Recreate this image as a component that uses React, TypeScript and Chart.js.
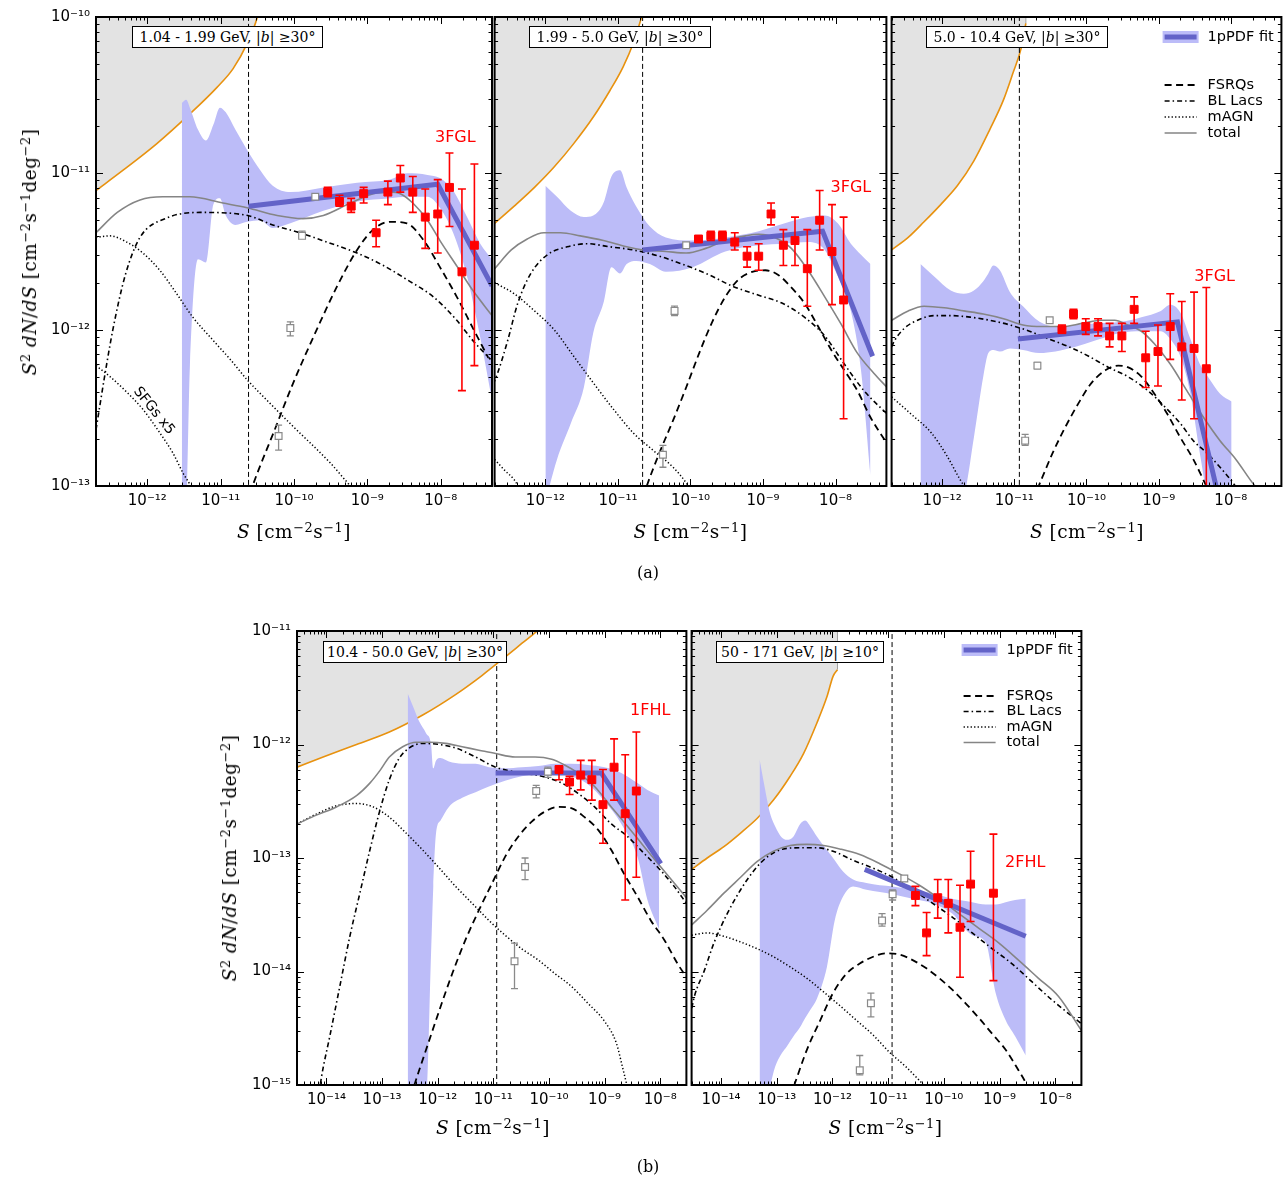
import React, { useEffect, useRef } from 'react';
import Chart from 'chart.js/auto';

type P2 = [number, number];
type P3 = [number, number, number];
type P4 = [number, number, number, number];

// All values are log10: [log10 S, log10 S^2 dN/dS] ; bands: [log10 S, lo, hi]; points: [log10 S, val, lo, hi]

// ---------- axes ----------
const TOP_X_RANGE: P2 = [-12.7, -7.3];
const TOP_Y_RANGE: P2 = [-13, -10];
const BOT_X_RANGE: P2 = [-14.53, -7.53];
const BOT_Y_RANGE: P2 = [-15, -11];
const TOP_X_DECADES = [-12, -11, -10, -9, -8];
const TOP_Y_DECADES = [-13, -12, -11, -10];
const BOT_X_DECADES = [-14, -13, -12, -11, -10, -9, -8];
const BOT_Y_DECADES = [-15, -14, -13, -12, -11];

// ---------- panel 1 : 1.04 - 1.99 GeV ----------
const P1_ORANGE: P2[] = [[-12.7, -11.11], [-12.33, -10.98], [-11.87, -10.81], [-11.42, -10.62], [-11.05, -10.45], [-10.83, -10.33], [-10.64, -10.17], [-10.5, -10.0], [-10.45, -9.89]];
const P1_BAND: P3[] = [[-11.53, -13.1, -10.55], [-11.47, -13.1, -10.53], [-11.42, -12.24, -10.58], [-11.31, -11.55, -10.72], [-11.2, -11.57, -10.79], [-11.1, -11.2, -10.69], [-11.01, -11.16, -10.58], [-10.93, -11.27, -10.61], [-10.8, -11.33, -10.72], [-10.64, -11.31, -10.85], [-10.46, -11.3, -10.98], [-10.29, -11.35, -11.08], [-10.05, -11.32, -11.12], [-9.6, -11.24, -11.09], [-9.14, -11.18, -11.06], [-8.69, -11.16, -11.04], [-8.46, -11.15, -11.0], [-8.18, -11.15, -11.01], [-8.01, -11.22, -11.03], [-7.83, -11.38, -11.11], [-7.64, -11.66, -11.28], [-7.46, -12.05, -11.45], [-7.3, -12.45, -11.55]];
const P1_FIT: P2[] = [[-10.62, -11.21], [-8.04, -11.07], [-7.3, -11.72]];
const P1_RED: P4[] = [[-9.54, -11.12, -11.15, -11.09], [-9.38, -11.18, -11.21, -11.14], [-9.22, -11.21, -11.25, -11.16], [-9.05, -11.13, -11.19, -11.09], [-8.88, -11.38, -11.47, -11.3], [-8.72, -11.12, -11.2, -11.05], [-8.55, -11.03, -11.12, -10.95], [-8.38, -11.12, -11.25, -11.02], [-8.21, -11.28, -11.48, -11.1], [-8.04, -11.26, -11.51, -11.04], [-7.88, -11.09, -11.34, -10.87], [-7.71, -11.63, -12.39, -11.1], [-7.54, -11.46, -12.23, -10.94]];
const P1_GRAY: P4[] = [[-9.71, -11.15, -11.16, -11.14], [-9.89, -11.4, -11.41, -11.37], [-10.05, -11.99, -12.04, -11.95], [-10.21, -12.68, -12.77, -12.61]];
const P1_TOTAL: P2[] = [[-12.7, -11.38], [-12.41, -11.25], [-12.1, -11.17], [-11.79, -11.15], [-11.42, -11.15], [-10.97, -11.19], [-10.64, -11.22], [-10.23, -11.27], [-9.88, -11.29], [-9.6, -11.27], [-9.23, -11.19], [-8.92, -11.13], [-8.69, -11.12], [-8.55, -11.13], [-8.38, -11.19], [-8.18, -11.3], [-8.01, -11.43], [-7.77, -11.6], [-7.56, -11.75], [-7.3, -11.91]];
const P1_BL: P2[] = [[-12.7, -12.64], [-12.59, -12.32], [-12.47, -12.0], [-12.3, -11.65], [-12.1, -11.41], [-11.76, -11.29], [-11.28, -11.25], [-10.63, -11.27], [-10.29, -11.33], [-9.92, -11.38], [-9.55, -11.44], [-9.14, -11.51], [-8.78, -11.59], [-8.46, -11.68], [-8.1, -11.79], [-7.78, -11.94], [-7.56, -12.07], [-7.32, -12.19]];
const P1_FSRQ: P2[] = [[-10.6, -13.05], [-10.55, -12.98], [-10.28, -12.66], [-10.01, -12.34], [-9.69, -12.0], [-9.42, -11.73], [-9.14, -11.49], [-8.92, -11.36], [-8.69, -11.31], [-8.46, -11.32], [-8.23, -11.43], [-8.01, -11.6], [-7.78, -11.79], [-7.55, -12.0], [-7.35, -12.18]];
const P1_MAGN: P2[] = [[-12.7, -11.41], [-12.51, -11.4], [-12.28, -11.44], [-12.06, -11.51], [-11.83, -11.62], [-11.6, -11.77], [-11.38, -11.92], [-11.1, -12.07], [-10.87, -12.19], [-10.64, -12.32], [-10.33, -12.47], [-10.01, -12.62], [-9.51, -12.85], [-9.21, -13.01], [-9.1, -13.06]];
const P1_SFG: P2[] = [[-12.7, -12.23], [-12.51, -12.3], [-12.28, -12.4], [-12.06, -12.51], [-11.83, -12.66], [-11.65, -12.79], [-11.51, -12.92], [-11.42, -12.99], [-11.35, -13.06]];
const P1_VLINE = -10.62;

// ---------- panel 2 : 1.99 - 5.0 GeV ----------
const P2_ORANGE: P2[] = [[-12.7, -11.32], [-12.43, -11.21], [-12.15, -11.09], [-11.88, -10.96], [-11.61, -10.81], [-11.34, -10.64], [-11.11, -10.47], [-10.93, -10.32], [-10.79, -10.17], [-10.7, -10.04], [-10.61, -9.9]];
const P2_BAND: P3[] = [[-12.0, -13.1, -11.08], [-11.84, -12.83, -11.15], [-11.65, -12.6, -11.24], [-11.47, -12.37, -11.28], [-11.34, -12.02, -11.27], [-11.2, -11.83, -11.19], [-11.09, -11.6, -11.02], [-10.97, -11.64, -10.98], [-10.88, -11.58, -11.09], [-10.75, -11.56, -11.21], [-10.56, -11.58, -11.34], [-10.34, -11.63, -11.41], [-9.97, -11.6, -11.43], [-9.52, -11.5, -11.41], [-9.06, -11.46, -11.37], [-8.7, -11.45, -11.32], [-8.38, -11.44, -11.28], [-8.15, -11.49, -11.27], [-7.97, -11.66, -11.32], [-7.79, -11.88, -11.45], [-7.65, -12.26, -11.52], [-7.52, -12.93, -11.58]];
const P2_FIT: P2[] = [[-10.66, -11.49], [-8.18, -11.37], [-7.49, -12.17]];
const P2_RED: P4[] = [[-9.89, -11.42, -11.44, -11.41], [-9.72, -11.4, -11.43, -11.37], [-9.56, -11.4, -11.43, -11.37], [-9.39, -11.44, -11.49, -11.38], [-9.22, -11.53, -11.6, -11.47], [-9.06, -11.53, -11.62, -11.45], [-8.89, -11.26, -11.33, -11.19], [-8.72, -11.46, -11.59, -11.36], [-8.56, -11.43, -11.59, -11.28], [-8.39, -11.61, -11.85, -11.36], [-8.22, -11.3, -11.49, -11.11], [-8.05, -11.5, -11.84, -11.2], [-7.89, -11.81, -12.57, -11.28]];
const P2_GRAY: P4[] = [[-10.06, -11.46, -11.47, -11.45], [-10.22, -11.88, -11.91, -11.85], [-10.38, -12.8, -12.88, -12.74]];
const P2_TOTAL: P2[] = [[-12.7, -11.61], [-12.47, -11.49], [-12.25, -11.42], [-12.02, -11.38], [-11.79, -11.38], [-11.52, -11.4], [-11.2, -11.43], [-10.88, -11.47], [-10.65, -11.49], [-10.34, -11.5], [-10.06, -11.51], [-9.79, -11.48], [-9.52, -11.43], [-9.24, -11.4], [-9.06, -11.39], [-8.84, -11.41], [-8.61, -11.48], [-8.38, -11.62], [-8.15, -11.79], [-7.93, -11.96], [-7.7, -12.15], [-7.47, -12.28], [-7.29, -12.37]];
const P2_BL: P2[] = [[-12.72, -12.35], [-12.66, -12.28], [-12.52, -12.07], [-12.38, -11.83], [-12.2, -11.64], [-11.97, -11.52], [-11.7, -11.47], [-11.43, -11.45], [-11.11, -11.47], [-10.79, -11.49], [-10.43, -11.53], [-10.06, -11.59], [-9.74, -11.65], [-9.43, -11.72], [-9.06, -11.78], [-8.74, -11.83], [-8.43, -11.92], [-8.15, -12.04], [-7.88, -12.22], [-7.61, -12.39], [-7.29, -12.54]];
const P2_FSRQ: P2[] = [[-10.65, -13.07], [-10.61, -13.01], [-10.43, -12.79], [-10.24, -12.58], [-10.06, -12.37], [-9.88, -12.15], [-9.7, -11.95], [-9.52, -11.79], [-9.34, -11.68], [-9.15, -11.63], [-8.97, -11.62], [-8.79, -11.65], [-8.61, -11.73], [-8.43, -11.83], [-8.24, -11.98], [-8.06, -12.13], [-7.88, -12.26], [-7.7, -12.39], [-7.52, -12.56], [-7.29, -12.73]];
const P2_MAGN: P2[] = [[-12.7, -11.7], [-12.43, -11.77], [-12.15, -11.88], [-11.88, -12.0], [-11.61, -12.17], [-11.34, -12.34], [-11.06, -12.51], [-10.79, -12.66], [-10.52, -12.77], [-10.24, -12.88], [-10.06, -12.98], [-9.97, -13.05]];
const P2_SFG: P2[] = [[-12.7, -12.83], [-12.56, -12.9], [-12.43, -12.96], [-12.34, -13.03]];
const P2_VLINE = -10.66;

// ---------- panel 3 : 5.0 - 10.4 GeV ----------
const P3_ORANGE: P2[] = [[-12.7, -11.49], [-12.47, -11.41], [-12.25, -11.31], [-12.02, -11.2], [-11.79, -11.08], [-11.56, -10.92], [-11.34, -10.72], [-11.15, -10.53], [-11.02, -10.36], [-10.9, -10.19], [-10.84, -10.04]];
const P3_EDGE: P2[] = [[-10.84, -10.04], [-10.84, -9.9]];
const P3_BAND: P3[] = [[-12.3, -13.1, -11.58], [-12.11, -13.1, -11.66], [-11.88, -13.1, -11.75], [-11.7, -13.05, -11.77], [-11.56, -12.69, -11.75], [-11.43, -12.3, -11.69], [-11.36, -12.15, -11.64], [-11.29, -12.13, -11.59], [-11.2, -12.14, -11.62], [-11.06, -12.12, -11.76], [-10.88, -12.13, -11.85], [-10.65, -12.15, -11.95], [-10.43, -12.14, -11.98], [-10.15, -12.11, -11.97], [-9.88, -12.07, -11.96], [-9.52, -12.02, -11.95], [-9.24, -12.01, -11.92], [-8.97, -12.01, -11.88], [-8.84, -12.06, -11.84], [-8.7, -12.17, -11.89], [-8.56, -12.41, -12.06], [-8.43, -12.79, -12.22], [-8.29, -13.1, -12.32], [-8.15, -13.1, -12.41], [-7.99, -13.1, -12.46]];
const P3_FIT: P2[] = [[-10.95, -12.06], [-8.74, -11.95], [-8.15, -13.11]];
const P3_RED: P4[] = [[-10.34, -12.0, -12.02, -11.97], [-10.18, -11.9, -11.93, -11.87], [-10.01, -11.98, -12.03, -11.93], [-9.84, -11.98, -12.04, -11.93], [-9.68, -12.04, -12.11, -11.96], [-9.51, -12.04, -12.14, -11.96], [-9.34, -11.87, -11.96, -11.79], [-9.18, -12.18, -12.37, -12.01], [-9.01, -12.14, -12.36, -11.97], [-8.84, -11.98, -12.19, -11.77], [-8.68, -12.11, -12.45, -11.82], [-8.51, -12.12, -12.57, -11.76], [-8.34, -12.25, -13.3, -11.73]];
const P3_GRAY: P4[] = [[-10.51, -11.94, -11.95, -11.93], [-10.68, -12.23, -12.25, -12.21], [-10.85, -12.71, -12.74, -12.67]];
const P3_TOTAL: P2[] = [[-12.7, -11.94], [-12.47, -11.88], [-12.25, -11.85], [-11.97, -11.86], [-11.7, -11.88], [-11.43, -11.9], [-11.15, -11.93], [-10.88, -11.97], [-10.61, -11.98], [-10.34, -11.98], [-10.06, -11.96], [-9.79, -11.94], [-9.61, -11.94], [-9.43, -11.97], [-9.24, -12.01], [-9.06, -12.09], [-8.84, -12.22], [-8.61, -12.39], [-8.38, -12.56], [-8.15, -12.71], [-7.93, -12.83], [-7.7, -12.98], [-7.61, -13.03]];
const P3_BL: P2[] = [[-12.7, -12.11], [-12.66, -12.07], [-12.52, -11.99], [-12.34, -11.94], [-12.11, -11.91], [-11.88, -11.91], [-11.61, -11.92], [-11.34, -11.94], [-11.06, -11.97], [-10.79, -12.01], [-10.52, -12.06], [-10.24, -12.11], [-9.97, -12.17], [-9.7, -12.24], [-9.43, -12.3], [-9.15, -12.39], [-8.88, -12.51], [-8.7, -12.6], [-8.52, -12.71], [-8.33, -12.79], [-8.15, -12.88], [-7.97, -12.98], [-7.88, -13.04]];
const P3_FSRQ: P2[] = [[-10.68, -13.02], [-10.47, -12.79], [-10.29, -12.62], [-10.11, -12.47], [-9.93, -12.34], [-9.74, -12.26], [-9.56, -12.23], [-9.43, -12.24], [-9.24, -12.3], [-9.06, -12.41], [-8.88, -12.54], [-8.7, -12.69], [-8.52, -12.83], [-8.33, -13.01]];
const P3_MAGN: P2[] = [[-12.7, -12.43], [-12.43, -12.54], [-12.15, -12.66], [-11.93, -12.81], [-11.75, -12.96], [-11.65, -13.03]];
const P3_VLINE = -10.93;

// ---------- panel 4 : 10.4 - 50.0 GeV ----------
const P4_ORANGE: P2[] = [[-14.53, -12.2], [-14.06, -12.11], [-13.46, -12.0], [-12.87, -11.89], [-12.27, -11.74], [-11.68, -11.56], [-11.2, -11.39], [-10.79, -11.23], [-10.49, -11.11], [-10.19, -10.99], [-10.07, -10.93]];
const P4_BAND: P3[] = [[-12.54, -15.1, -11.55], [-12.44, -15.1, -11.67], [-12.33, -15.1, -11.8], [-12.21, -15.1, -11.9], [-12.12, -13.84, -12.0], [-12.08, -13.25, -12.21], [-12.03, -12.78, -12.14], [-11.95, -12.67, -12.12], [-11.8, -12.55, -12.15], [-11.56, -12.47, -12.17], [-11.32, -12.42, -12.17], [-11.08, -12.37, -12.2], [-10.79, -12.32, -12.21], [-10.49, -12.28, -12.2], [-10.19, -12.26, -12.19], [-9.89, -12.26, -12.17], [-9.6, -12.28, -12.17], [-9.3, -12.35, -12.18], [-9.0, -12.5, -12.2], [-8.7, -12.7, -12.25], [-8.41, -12.99, -12.34], [-8.23, -13.37, -12.4], [-8.02, -13.63, -12.45]];
const P4_FIT: P2[] = [[-10.96, -12.25], [-9.06, -12.25], [-7.99, -13.05]];
const P4_RED: P4[] = [[-9.82, -12.22, -12.31, -12.2], [-9.63, -12.33, -12.44, -12.28], [-9.43, -12.27, -12.4, -12.14], [-9.23, -12.31, -12.49, -12.14], [-9.03, -12.53, -12.87, -12.22], [-8.83, -12.2, -12.49, -11.95], [-8.63, -12.61, -13.37, -12.09], [-8.43, -12.41, -13.17, -11.89]];
const P4_GRAY: P4[] = [[-10.02, -12.24, -12.29, -12.2], [-10.23, -12.41, -12.47, -12.36], [-10.43, -13.08, -13.19, -13.0], [-10.62, -13.91, -14.15, -13.75]];
const P4_TOTAL: P2[] = [[-14.53, -12.7], [-14.17, -12.62], [-13.82, -12.55], [-13.46, -12.45], [-13.22, -12.34], [-13.04, -12.23], [-12.87, -12.11], [-12.63, -12.02], [-12.39, -11.98], [-12.15, -11.98], [-11.86, -11.99], [-11.56, -12.02], [-11.26, -12.05], [-10.96, -12.08], [-10.61, -12.11], [-10.25, -12.11], [-9.95, -12.13], [-9.72, -12.18], [-9.48, -12.25], [-9.18, -12.37], [-8.88, -12.55], [-8.59, -12.72], [-8.29, -12.9], [-7.99, -13.08], [-7.75, -13.22], [-7.53, -13.35]];
const P4_BL: P2[] = [[-14.14, -15.1], [-14.09, -14.93], [-13.94, -14.57], [-13.76, -14.13], [-13.58, -13.69], [-13.4, -13.31], [-13.22, -12.93], [-13.04, -12.58], [-12.87, -12.31], [-12.69, -12.12], [-12.51, -12.03], [-12.27, -11.99], [-11.97, -12.0], [-11.68, -12.03], [-11.32, -12.11], [-10.96, -12.2], [-10.49, -12.25], [-10.13, -12.28], [-9.77, -12.34], [-9.48, -12.43], [-9.18, -12.55], [-8.88, -12.7], [-8.59, -12.81], [-8.29, -12.96], [-7.99, -13.11], [-7.75, -13.25], [-7.53, -13.4]];
const P4_FSRQ: P2[] = [[-12.48, -15.1], [-12.42, -15.0], [-12.21, -14.69], [-11.97, -14.34], [-11.74, -14.02], [-11.5, -13.72], [-11.26, -13.46], [-11.02, -13.22], [-10.79, -12.99], [-10.55, -12.81], [-10.31, -12.68], [-10.07, -12.59], [-9.83, -12.55], [-9.6, -12.56], [-9.36, -12.64], [-9.12, -12.75], [-8.88, -12.93], [-8.65, -13.14], [-8.41, -13.34], [-8.17, -13.55], [-7.93, -13.72], [-7.69, -13.93], [-7.53, -14.05]];
const P4_MAGN: P2[] = [[-14.53, -12.7], [-14.17, -12.61], [-13.82, -12.54], [-13.46, -12.52], [-13.16, -12.55], [-12.87, -12.64], [-12.57, -12.78], [-12.27, -12.93], [-11.97, -13.09], [-11.68, -13.25], [-11.38, -13.4], [-11.08, -13.55], [-10.79, -13.68], [-10.49, -13.8], [-10.19, -13.9], [-9.89, -14.02], [-9.6, -14.13], [-9.3, -14.28], [-9.0, -14.44], [-8.79, -14.63], [-8.68, -14.84], [-8.59, -15.02]];
const P4_VLINE = -10.94;

// ---------- panel 5 : 50 - 171 GeV ----------
const P5_ORANGE: P2[] = [[-14.53, -13.1], [-14.25, -13.0], [-13.95, -12.9], [-13.65, -12.78], [-13.35, -12.65], [-13.06, -12.49], [-12.76, -12.28], [-12.52, -12.08], [-12.28, -11.81], [-12.1, -11.58], [-11.99, -11.4], [-11.91, -11.34]];
const P5_EDGE: P2[] = [[-11.91, -11.34], [-11.91, -10.9]];
const P5_BAND: P3[] = [[-13.31, -15.1, -12.13], [-13.22, -15.1, -12.37], [-13.13, -15.02, -12.59], [-13.03, -14.84, -12.72], [-12.91, -14.72, -12.82], [-12.82, -14.66, -12.84], [-12.7, -14.57, -12.81], [-12.58, -14.49, -12.7], [-12.49, -14.41, -12.67], [-12.4, -14.34, -12.72], [-12.28, -14.24, -12.81], [-12.1, -13.96, -12.93], [-11.96, -13.55, -13.02], [-11.81, -13.34, -13.12], [-11.63, -13.25, -13.19], [-11.39, -13.28, -13.22], [-11.15, -13.3, -13.24], [-10.92, -13.32, -13.25], [-10.56, -13.36, -13.28], [-10.2, -13.4, -13.31], [-9.85, -13.49, -13.36], [-9.49, -13.68, -13.39], [-9.25, -13.74, -13.41], [-9.07, -14.19, -13.41], [-8.89, -14.43, -13.39], [-8.72, -14.57, -13.37], [-8.53, -14.74, -13.36]];
const P5_FIT: P2[] = [[-11.42, -13.1], [-8.53, -13.69]];
const P5_RED: P4[] = [[-10.51, -13.33, -13.42, -13.25], [-10.31, -13.66, -13.86, -13.48], [-10.11, -13.35, -13.53, -13.19], [-9.92, -13.4, -13.66, -13.19], [-9.71, -13.61, -14.05, -13.24], [-9.52, -13.23, -13.56, -12.94], [-9.11, -13.31, -14.08, -12.79]];
const P5_GRAY: P4[] = [[-10.71, -13.18, -13.2, -13.16], [-10.92, -13.32, -13.37, -13.28], [-11.11, -13.55, -13.6, -13.49], [-11.31, -14.28, -14.4, -14.19], [-11.51, -14.87, -14.91, -14.74]];
const P5_TOTAL: P2[] = [[-14.53, -13.59], [-14.25, -13.46], [-13.95, -13.31], [-13.65, -13.17], [-13.35, -13.03], [-13.06, -12.94], [-12.76, -12.89], [-12.46, -12.88], [-12.16, -12.89], [-11.87, -12.92], [-11.51, -12.97], [-11.15, -13.05], [-10.8, -13.14], [-10.44, -13.24], [-10.08, -13.36], [-9.73, -13.49], [-9.37, -13.62], [-9.01, -13.75], [-8.66, -13.9], [-8.3, -14.06], [-7.94, -14.22], [-7.53, -14.52]];
const P5_BL: P2[] = [[-14.57, -14.43], [-14.48, -14.22], [-14.3, -13.99], [-14.13, -13.75], [-13.89, -13.49], [-13.65, -13.28], [-13.41, -13.11], [-13.17, -12.99], [-12.88, -12.92], [-12.58, -12.91], [-12.28, -12.91], [-11.99, -12.94], [-11.63, -13.02], [-11.27, -13.09], [-10.92, -13.17], [-10.56, -13.28], [-10.2, -13.4], [-9.85, -13.52], [-9.49, -13.66], [-9.13, -13.8], [-8.78, -13.93], [-8.42, -14.09], [-8.06, -14.25], [-7.53, -14.46]];
const P5_FSRQ: P2[] = [[-12.76, -15.1], [-12.7, -15.02], [-12.46, -14.69], [-12.22, -14.43], [-11.99, -14.19], [-11.75, -14.02], [-11.51, -13.93], [-11.27, -13.87], [-11.03, -13.84], [-10.8, -13.85], [-10.56, -13.9], [-10.32, -13.97], [-10.08, -14.06], [-9.85, -14.16], [-9.61, -14.28], [-9.37, -14.41], [-9.13, -14.55], [-8.89, -14.69], [-8.66, -14.87], [-8.54, -14.97], [-8.45, -15.07]];
const P5_MAGN: P2[] = [[-14.53, -13.68], [-14.25, -13.66], [-13.95, -13.69], [-13.65, -13.74], [-13.35, -13.8], [-13.06, -13.87], [-12.76, -13.96], [-12.46, -14.06], [-12.16, -14.18], [-11.87, -14.3], [-11.57, -14.43], [-11.27, -14.56], [-10.98, -14.71], [-10.68, -14.84], [-10.44, -14.96], [-10.29, -15.04]];
const P5_VLINE = -10.93;

// ---------- texts ----------
const LEGEND_LABELS = ['1pPDF fit', 'FSRQs', 'BL Lacs', 'mAGN', 'total'];
const BOX_LABELS = [
  ['1.04 - 1.99 GeV, |', 'b', '| \u226530\u00b0'],
  ['1.99 - 5.0 GeV, |', 'b', '| \u226530\u00b0'],
  ['5.0 - 10.4 GeV, |', 'b', '| \u226530\u00b0'],
  ['10.4 - 50.0 GeV, |', 'b', '| \u226530\u00b0'],
  ['50 - 171 GeV, |', 'b', '| \u226510\u00b0'],
];
const CATALOGS = ['3FGL', '3FGL', '3FGL', '1FHL', '2FHL'];
const CATALOG_POS: P2[] = [[-7.8, -10.77], [-7.79, -11.09], [-8.225, -11.66], [-8.18, -11.7], [-8.54, -13.04]];
const SFG_LABEL_POS: P2 = [-11.91, -12.52];

// ---------- styles ----------
const GRAY_FILL = '#e3e3e3';
const ORANGE = '#e8920f';
const BAND = '#bcbcf8';
const FIT = '#6363c8';
const TOTAL = '#858585';
const RED = '#ff0000';
const GRAYPT = '#8a8a8a';
const DASH_FSRQ = [7, 4.5];
const DASH_BL = [5, 3, 1.5, 3];
const DASH_MAGN = [1.3, 2.2];

interface PanelDef {
  cx: number; cy: number; cw: number; ch: number;
  pad: { left: number; top: number; right: number; bottom: number };
  showY: boolean; yAxisW: number; xAxisH: number;
  xr: P2; yr: P2; xDec: number[]; yDec: number[];
  orange: P2[]; edge?: P2[]; band: P3[]; fit: P2[]; red: P4[]; gray: P4[];
  total: P2[]; bl: P2[]; fsrq: P2[]; magn: P2[]; sfg?: P2[]; vline: number;
  catalog: string; catalogPos: P2; legend?: { x: number; ys: number[] }; sfgLabel?: boolean;
  box: { left: number; top: number; width: number };
}

const PANELS: PanelDef[] = [
  { cx: 0, cy: 0, cw: 500, ch: 560, pad: { left: 0, top: 17, right: 8, bottom: 0 }, showY: true, yAxisW: 96, xAxisH: 74,
    xr: TOP_X_RANGE, yr: TOP_Y_RANGE, xDec: TOP_X_DECADES, yDec: TOP_Y_DECADES,
    orange: P1_ORANGE, band: P1_BAND, fit: P1_FIT, red: P1_RED, gray: P1_GRAY, total: P1_TOTAL, bl: P1_BL, fsrq: P1_FSRQ, magn: P1_MAGN, sfg: P1_SFG, vline: P1_VLINE,
    catalog: CATALOGS[0], catalogPos: CATALOG_POS[0], sfgLabel: true, box: { left: 132, top: 26, width: 191 } },
  { cx: 488, cy: 0, cw: 405, ch: 560, pad: { left: 4, top: 17, right: 4, bottom: 0 }, showY: false, yAxisW: 0, xAxisH: 74,
    xr: TOP_X_RANGE, yr: TOP_Y_RANGE, xDec: TOP_X_DECADES, yDec: TOP_Y_DECADES,
    orange: P2_ORANGE, band: P2_BAND, fit: P2_FIT, red: P2_RED, gray: P2_GRAY, total: P2_TOTAL, bl: P2_BL, fsrq: P2_FSRQ, magn: P2_MAGN, sfg: P2_SFG, vline: P2_VLINE,
    catalog: CATALOGS[1], catalogPos: CATALOG_POS[1], box: { left: 529, top: 26, width: 182 } },
  { cx: 885, cy: 0, cw: 403, ch: 560, pad: { left: 4, top: 17, right: 3, bottom: 0 }, showY: false, yAxisW: 0, xAxisH: 74,
    xr: TOP_X_RANGE, yr: TOP_Y_RANGE, xDec: TOP_X_DECADES, yDec: TOP_Y_DECADES,
    orange: P3_ORANGE, edge: P3_EDGE, band: P3_BAND, fit: P3_FIT, red: P3_RED, gray: P3_GRAY, total: P3_TOTAL, bl: P3_BL, fsrq: P3_FSRQ, magn: P3_MAGN, vline: P3_VLINE,
    catalog: CATALOGS[2], catalogPos: CATALOG_POS[2], legend: { x: 273, ys: [20, 68, 84, 100, 116] }, box: { left: 926, top: 26, width: 182 } },
  { cx: 200, cy: 600, cw: 493, ch: 560, pad: { left: 0, top: 31, right: 4, bottom: 0 }, showY: true, yAxisW: 97, xAxisH: 75,
    xr: BOT_X_RANGE, yr: BOT_Y_RANGE, xDec: BOT_X_DECADES, yDec: BOT_Y_DECADES,
    orange: P4_ORANGE, band: P4_BAND, fit: P4_FIT, red: P4_RED, gray: P4_GRAY, total: P4_TOTAL, bl: P4_BL, fsrq: P4_FSRQ, magn: P4_MAGN, vline: P4_VLINE,
    catalog: CATALOGS[3], catalogPos: CATALOG_POS[3], box: { left: 323, top: 641, width: 184 } },
  { cx: 685, cy: 600, cw: 403, ch: 560, pad: { left: 4, top: 31, right: 6, bottom: 0 }, showY: false, yAxisW: 0, xAxisH: 75,
    xr: BOT_X_RANGE, yr: BOT_Y_RANGE, xDec: BOT_X_DECADES, yDec: BOT_Y_DECADES,
    orange: P5_ORANGE, edge: P5_EDGE, band: P5_BAND, fit: P5_FIT, red: P5_RED, gray: P5_GRAY, total: P5_TOTAL, bl: P5_BL, fsrq: P5_FSRQ, magn: P5_MAGN, vline: P5_VLINE,
    catalog: CATALOGS[4], catalogPos: CATALOG_POS[4], legend: { x: 272, ys: [19, 65, 80.5, 96, 111.5] }, box: { left: 716, top: 641, width: 168 } },
];

const SUPMAP: Record<string, string> = { '-': '\u207b', '0': '\u2070', '1': '\u00b9', '2': '\u00b2', '3': '\u00b3', '4': '\u2074', '5': '\u2075', '6': '\u2076', '7': '\u2077', '8': '\u2078', '9': '\u2079' };
const fmtTick = (v: number) => {
  const e = Math.round(Math.log10(v));
  return '10' + String(e).split('').map((c) => SUPMAP[c] || c).join('');
};
const toXY = (arr: P2[]) => arr.map(([s, f]) => ({ x: Math.pow(10, s), y: Math.pow(10, f) }));

function logTicks(scale: any) {
  const out: { v: number; major: boolean }[] = [];
  const lo = Math.log10(scale.min), hi = Math.log10(scale.max);
  for (let e = Math.floor(lo); e <= Math.ceil(hi); e++) {
    for (let k = 1; k < 10; k++) {
      const l = e + Math.log10(k);
      if (l >= lo - 1e-9 && l <= hi + 1e-9) out.push({ v: Math.pow(10, l), major: k === 1 });
    }
  }
  return out;
}

function drawFrame(chart: any) {
  const { ctx, chartArea: a } = chart;
  const xs = chart.scales.x, ys = chart.scales.y;
  ctx.save();
  ctx.strokeStyle = '#000';
  ctx.lineWidth = 1;
  ctx.setLineDash([]);
  ctx.beginPath();
  for (const t of logTicks(xs)) {
    const px = Math.round(xs.getPixelForValue(t.v)) + 0.5;
    const L = t.major ? 7 : 3.5;
    ctx.moveTo(px, a.bottom); ctx.lineTo(px, a.bottom - L);
    ctx.moveTo(px, a.top); ctx.lineTo(px, a.top + L);
  }
  for (const t of logTicks(ys)) {
    const py = Math.round(ys.getPixelForValue(t.v)) + 0.5;
    const L = t.major ? 7 : 3.5;
    ctx.moveTo(a.left, py); ctx.lineTo(a.left + L, py);
    ctx.moveTo(a.right, py); ctx.lineTo(a.right - L, py);
  }
  ctx.stroke();
  ctx.lineWidth = 2;
  ctx.strokeRect(a.left, a.top, a.right - a.left, a.bottom - a.top);
  ctx.restore();
}

function makeDecor(p: PanelDef) {
  return {
    id: 'decor',
    beforeDatasetDraw(chart: any, args: any) {
      const d = chart.data.datasets[args.index];
      if (!d || !d.errBars) return;
      const { ctx, chartArea: a } = chart;
      const xs = chart.scales.x, ys = chart.scales.y;
      ctx.save();
      ctx.beginPath();
      ctx.rect(a.left, a.top, a.right - a.left, a.bottom - a.top);
      ctx.clip();
      ctx.strokeStyle = d.errColor;
      ctx.lineWidth = d.errWidth;
      ctx.setLineDash([]);
      ctx.beginPath();
      for (const [s, lo, hi] of d.errBars as P3[]) {
        const px = xs.getPixelForValue(Math.pow(10, s));
        const p1 = ys.getPixelForValue(Math.pow(10, lo));
        const p2 = ys.getPixelForValue(Math.pow(10, hi));
        ctx.moveTo(px, p1); ctx.lineTo(px, p2);
        ctx.moveTo(px - d.capW, p1); ctx.lineTo(px + d.capW, p1);
        ctx.moveTo(px - d.capW, p2); ctx.lineTo(px + d.capW, p2);
      }
      ctx.stroke();
      ctx.restore();
    },
    afterDatasetsDraw(chart: any) {
      const { ctx, chartArea: a } = chart;
      const xs = chart.scales.x, ys = chart.scales.y;
      ctx.save();
      ctx.fillStyle = RED;
      ctx.font = '16px "DejaVu Sans"';
      ctx.textAlign = 'center';
      ctx.textBaseline = 'middle';
      ctx.fillText(p.catalog, xs.getPixelForValue(Math.pow(10, p.catalogPos[0])), ys.getPixelForValue(Math.pow(10, p.catalogPos[1])));
      if (p.sfgLabel) {
        const px = xs.getPixelForValue(Math.pow(10, SFG_LABEL_POS[0]));
        const py = ys.getPixelForValue(Math.pow(10, SFG_LABEL_POS[1]));
        ctx.save();
        ctx.translate(px, py);
        ctx.rotate((51 * Math.PI) / 180);
        ctx.fillStyle = '#000';
        ctx.font = '14px "DejaVu Sans"';
        ctx.fillText('SFGs x5', 0, 0);
        ctx.restore();
      }
      if (p.legend) {
        const x0 = a.left + p.legend.x, x1 = x0 + 32, tx = x1 + 11;
        const ys2 = p.legend.ys.map((v) => a.top + v);
        ctx.textAlign = 'left';
        ctx.font = '14.5px "DejaVu Sans"';
        ctx.fillStyle = BAND;
        ctx.fillRect(x0 - 2, ys2[0] - 6, 36, 12);
        ctx.strokeStyle = FIT; ctx.lineWidth = 5; ctx.setLineDash([]);
        ctx.beginPath(); ctx.moveTo(x0, ys2[0]); ctx.lineTo(x1, ys2[0]); ctx.stroke();
        const styles = [
          { c: '#000', w: 1.8, d: DASH_FSRQ },
          { c: '#000', w: 1.6, d: DASH_BL },
          { c: '#000', w: 1.5, d: DASH_MAGN },
          { c: TOTAL, w: 1.6, d: [] as number[] },
        ];
        styles.forEach((st, i) => {
          ctx.strokeStyle = st.c; ctx.lineWidth = st.w; ctx.setLineDash(st.d);
          ctx.beginPath(); ctx.moveTo(x0, ys2[i + 1]); ctx.lineTo(x1, ys2[i + 1]); ctx.stroke();
        });
        ctx.setLineDash([]);
        ctx.fillStyle = '#000';
        LEGEND_LABELS.forEach((t, i) => ctx.fillText(t, tx, ys2[i]));
      }
      ctx.restore();
    },
    afterDraw(chart: any) {
      drawFrame(chart);
    },
  };
}

function buildChart(canvas: HTMLCanvasElement, p: PanelDef) {
  const ds: any[] = [];
  const line = (pts: P2[], o: any) => ({
    data: toXY(pts), pointRadius: 0, borderWidth: 1.5, fill: false, clip: 0,
    cubicInterpolationMode: 'monotone', ...o,
  });
  ds.push(line(p.orange, { borderColor: ORANGE, backgroundColor: GRAY_FILL, fill: 'end', order: 20, borderWidth: 1.6 }));
  if (p.edge) ds.push(line(p.edge, { borderColor: '#a0a0a0', borderWidth: 1, order: 19, cubicInterpolationMode: 'default', tension: 0 }));
  const lo = ds.length;
  ds.push(line(p.band.map(([s, l]) => [s, l] as P2), { borderColor: 'rgba(0,0,0,0)', borderWidth: 0, order: 18 }));
  ds.push(line(p.band.map(([s, , h]) => [s, h] as P2), { borderColor: 'rgba(0,0,0,0)', borderWidth: 0, backgroundColor: BAND, fill: lo, order: 17 }));
  ds.push(line([[p.vline, p.yr[0] - 0.3], [p.vline, p.yr[1] + 0.3]], { borderColor: '#000', borderWidth: 1, borderDash: [5, 3], order: 16, cubicInterpolationMode: 'default', tension: 0 }));
  ds.push(line(p.magn, { borderColor: '#000', borderWidth: 1.5, borderDash: DASH_MAGN, order: 15 }));
  if (p.sfg) ds.push(line(p.sfg, { borderColor: '#000', borderWidth: 1.5, borderDash: DASH_MAGN, order: 15 }));
  ds.push(line(p.fsrq, { borderColor: '#000', borderWidth: 1.8, borderDash: DASH_FSRQ, order: 14 }));
  ds.push(line(p.bl, { borderColor: '#000', borderWidth: 1.6, borderDash: DASH_BL, order: 13 }));
  ds.push(line(p.total, { borderColor: TOTAL, borderWidth: 1.6, order: 12 }));
  ds.push(line(p.fit, { borderColor: FIT, borderWidth: 5, order: 11, cubicInterpolationMode: 'default', tension: 0, borderCapStyle: 'butt' }));
  ds.push({
    data: toXY(p.gray.map(([s, f]) => [s, f] as P2)), showLine: false, pointStyle: 'rect', pointRadius: 4.8,
    pointBackgroundColor: '#fff', pointBorderColor: GRAYPT, pointBorderWidth: 1.2, order: 10, clip: 0,
    errBars: p.gray.map(([s, , l, h]) => [s, l, h]), errColor: GRAYPT, errWidth: 1.3, capW: 3.5,
  });
  ds.push({
    data: toXY(p.red.map(([s, f]) => [s, f] as P2)), showLine: false, pointStyle: 'rect', pointRadius: 5.6,
    pointBackgroundColor: RED, pointBorderColor: RED, pointBorderWidth: 1, order: 9, clip: 0,
    errBars: p.red.map(([s, , l, h]) => [s, l, h]), errColor: RED, errWidth: 1.6, capW: 4,
  });

  const tickFont = { family: 'DejaVu Sans', size: 15 };
  const scales: any = {
    x: {
      type: 'logarithmic', min: Math.pow(10, p.xr[0]), max: Math.pow(10, p.xr[1]), bounds: 'data',
      grid: { display: false, drawTicks: false }, border: { display: false },
      ticks: { autoSkip: false, maxRotation: 0, minRotation: 0, padding: 6, color: '#000', font: tickFont, callback: (v: any) => fmtTick(Number(v)) },
      afterBuildTicks: (s: any) => { s.ticks = p.xDec.map((e) => ({ value: Math.pow(10, e) })); },
      afterFit: (s: any) => { s.height = p.xAxisH; },
    },
    y: {
      type: 'logarithmic', display: p.showY, position: 'left', min: Math.pow(10, p.yr[0]), max: Math.pow(10, p.yr[1]), bounds: 'data',
      grid: { display: false, drawTicks: false }, border: { display: false },
      ticks: { autoSkip: false, padding: 6, color: '#000', font: tickFont, callback: (v: any) => fmtTick(Number(v)) },
      afterBuildTicks: (s: any) => { s.ticks = p.yDec.map((e) => ({ value: Math.pow(10, e) })); },
      afterFit: (s: any) => { s.width = p.yAxisW; },
    },
  };

  return new Chart(canvas, {
    type: 'line',
    data: { datasets: ds },
    options: {
      responsive: false, maintainAspectRatio: false, animation: false, devicePixelRatio: 1, events: [],
      layout: { padding: p.pad },
      plugins: { legend: { display: false }, tooltip: { enabled: false } },
      scales,
    },
    plugins: [makeDecor(p)],
  } as any);
}

const Sup = ({ c }: { c: string }) => (
  <sup style={{ fontSize: '70%', verticalAlign: '0.5em', lineHeight: 0 }}>{c}</sup>
);

const XTitle = () => (
  <span><i>S</i>&nbsp;[cm<Sup c={'\u22122'} />s<Sup c={'\u22121'} />]</span>
);
const YTitle = () => (
  <span><i>S</i><Sup c="2" />&nbsp;<i>dN</i>/<i>dS</i>&nbsp;[cm<Sup c={'\u22122'} />s<Sup c={'\u22121'} />deg<Sup c={'\u22122'} />]</span>
);

const X_TITLE_POS: P2[] = [[294, 532], [690.5, 532], [1087, 532], [493, 1128], [885.5, 1128]];
const Y_TITLE_POS: P2[] = [[30, 252], [230, 858]];
const CAPTIONS: [string, number, number][] = [['(a)', 648, 572], ['(b)', 648, 1166]];

export default function App() {
  const r0 = useRef<HTMLCanvasElement>(null);
  const r1 = useRef<HTMLCanvasElement>(null);
  const r2 = useRef<HTMLCanvasElement>(null);
  const r3 = useRef<HTMLCanvasElement>(null);
  const r4 = useRef<HTMLCanvasElement>(null);
  const refs = [r0, r1, r2, r3, r4];

  useEffect(() => {
    Chart.defaults.font.family = 'DejaVu Sans';
    const charts = PANELS.map((p, i) => buildChart(refs[i].current as HTMLCanvasElement, p));
    return () => charts.forEach((c) => c.destroy());
  }, []);

  const serif = '"DejaVu Serif", serif';
  const titleStyle: any = { position: 'absolute', fontFamily: serif, fontSize: 18.5, letterSpacing: '0.5px', whiteSpace: 'nowrap', lineHeight: '20px', color: '#000' };
  return (
    <div style={{ position: 'absolute', left: 0, top: 0, width: 1288, height: 1179, background: '#fff', overflow: 'hidden' }}>
      {PANELS.map((p, i) => (
        <canvas key={i} ref={refs[i]} width={p.cw} height={p.ch}
          style={{ position: 'absolute', left: p.cx, top: p.cy, width: p.cw, height: p.ch }} />
      ))}
      {PANELS.map((p, i) => (
        <div key={'b' + i} style={{
          position: 'absolute', left: p.box.left, top: p.box.top, width: p.box.width, height: 22, boxSizing: 'border-box',
          border: '1px solid #000', background: '#fff', fontFamily: serif, fontSize: 14, lineHeight: '20px',
          textAlign: 'center', whiteSpace: 'nowrap', color: '#000',
        }}>
          {BOX_LABELS[i][0]}<i>{BOX_LABELS[i][1]}</i>{BOX_LABELS[i][2]}
        </div>
      ))}
      {X_TITLE_POS.map(([x, y], i) => (
        <div key={'x' + i} style={{ ...titleStyle, left: x, top: y, transform: 'translate(-50%, -50%)' }}>
          <XTitle />
        </div>
      ))}
      {Y_TITLE_POS.map(([x, y], i) => (
        <div key={'y' + i} style={{ ...titleStyle, left: x, top: y, transform: 'translate(-50%, -50%) rotate(-90deg)' }}>
          <YTitle />
        </div>
      ))}
      {CAPTIONS.map(([t, x, y], i) => (
        <div key={'c' + i} style={{ position: 'absolute', left: x, top: y, transform: 'translate(-50%, -50%)', fontFamily: serif, fontSize: 16, whiteSpace: 'nowrap', color: '#000' }}>
          {t}
        </div>
      ))}
    </div>
  );
}
